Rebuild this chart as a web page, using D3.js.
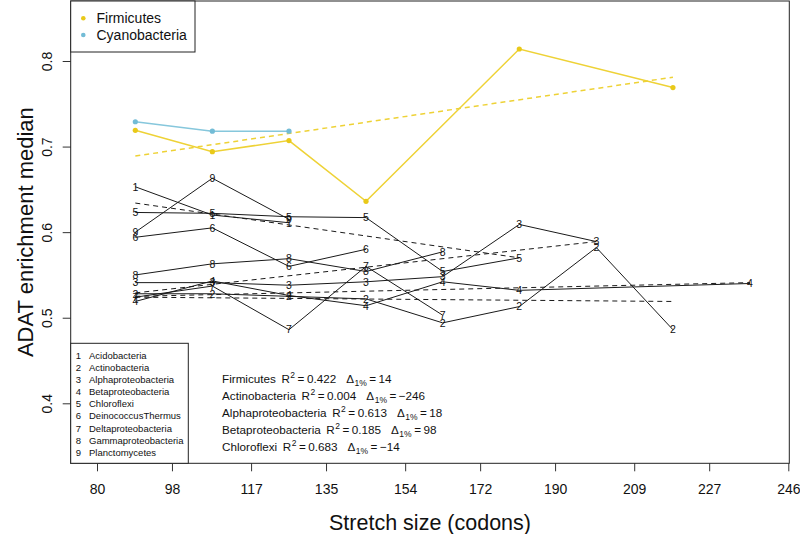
<!DOCTYPE html>
<html>
<head>
<meta charset="utf-8">
<script src="https://cdn.jsdelivr.net/npm/d3@7"></script>
<style>
  html, body { margin: 0; padding: 0; background: #fff; }
  svg { display: block; font-family: "Liberation Sans", Arial, sans-serif; }
</style>
</head>
<body>
<svg id="chart" width="800" height="534"></svg>
<script>
// ---------------- DATA ----------------
const stretchBins = [89.2, 107.7, 126.1, 144.6, 163.0, 181.4, 199.9, 218.3, 236.8];
const xTickLabels = [80, 98, 117, 135, 154, 172, 190, 209, 227, 246];
const yTickValues = [0.4, 0.5, 0.6, 0.7, 0.8];

const firmicutes    = [0.719, 0.694, 0.707, 0.636, null, 0.814, null, 0.769, null];
const cyanobacteria = [0.729, 0.718, 0.718, null, null, null, null, null, null];

const groupNames = ["Acidobacteria", "Actinobacteria", "Alphaproteobacteria", "Betaproteobacteria",
  "Chloroflexi", "DeinococcusThermus", "Deltaproteobacteria", "Gammaproteobacteria", "Planctomycetes"];
const acidobacteria       = [0.653, 0.620, 0.611, null, null, null, null, null, null];
const actinobacteria      = [0.528, 0.528, 0.525, 0.522, 0.494, 0.513, 0.582, 0.486, null];
const alphaproteobacteria = [0.541, 0.541, 0.538, 0.542, 0.548, 0.609, 0.589, null, null];
const betaproteobacteria  = [0.519, 0.543, 0.526, 0.514, 0.542, 0.532, null, null, 0.540];
const chloroflexi         = [0.623, 0.622, 0.618, 0.617, 0.554, 0.570, null, null, null];
const deinococcusThermus  = [0.594, 0.605, 0.560, 0.580, null, null, null, null, null];
const deltaproteobacteria = [0.524, 0.537, 0.486, 0.560, 0.503, null, null, null, null];
const gammaproteobacteria = [0.550, 0.563, 0.569, 0.554, 0.577, null, null, null, null];
const planctomycetes      = [0.600, 0.663, 0.615, null, null, null, null, null, null];
const groupValues = [acidobacteria, actinobacteria, alphaproteobacteria, betaproteobacteria,
  chloroflexi, deinococcusThermus, deltaproteobacteria, gammaproteobacteria, planctomycetes];

// regression (trend) lines: start/end stretch size and fitted value
const fitNames  = ["Firmicutes", "Actinobacteria", "Alphaproteobacteria", "Betaproteobacteria", "Chloroflexi"];
const fitR2     = ["0.422", "0.004", "0.613", "0.185", "0.683"];
const fitDelta  = ["14", "\u2212246", "18", "98", "\u221214"];
const fitX0     = [89.2, 89.2, 89.2, 89.2, 89.2];
const fitX1     = [218.3, 218.3, 199.9, 236.8, 181.4];
const fitY0     = [0.689, 0.524, 0.529, 0.525, 0.634];
const fitY1     = [0.781, 0.519, 0.589, 0.541, 0.570];

// ---------------- LAYOUT ----------------
const box = { left: 70.7, right: 789.3, top: 1, bottom: 463.3 };
const svg = d3.select("#chart");
const x = d3.scaleLinear().domain([80, 246]).range([97, 788.3]);
const y = d3.scaleLinear().domain([0.4, 0.8]).range([403.3, 61]);

const yellow = "#EED236", yellowPt = "#E9C919";
const blue = "#86C7DC", bluePt = "#73BCD6";
const ink = "#1a1a1a";

// ---------------- AXES ----------------
const xAxis = svg.append("g")
  .attr("transform", `translate(0,${box.bottom})`)
  .call(d3.axisBottom(x).tickValues(xTickLabels).tickFormat(d3.format("d")).tickSize(8).tickSizeOuter(0));
xAxis.select(".domain").remove();
xAxis.selectAll(".tick line").attr("stroke", "#333");
xAxis.selectAll("text").attr("y", 31).attr("dy", null)
  .attr("font-size", 14).attr("fill", "#111").attr("font-family", "Liberation Sans, Arial, sans-serif");

const yAxis = svg.append("g")
  .attr("transform", `translate(${box.left},0)`)
  .call(d3.axisLeft(y).tickValues(yTickValues).tickFormat(d3.format(".1f")).tickSize(8).tickSizeOuter(0));
yAxis.select(".domain").remove();
yAxis.selectAll(".tick line").attr("stroke", "#333");
yAxis.selectAll("text")
  .attr("x", 0).attr("y", -18.5).attr("dy", null)
  .attr("transform", "rotate(-90)")
  .attr("text-anchor", "middle")
  .attr("font-size", 14).attr("fill", "#111").attr("font-family", "Liberation Sans, Arial, sans-serif");

// plot box
svg.append("rect")
  .attr("x", box.left).attr("y", box.top)
  .attr("width", box.right - box.left).attr("height", box.bottom - box.top)
  .attr("fill", "none").attr("stroke", "#222").attr("stroke-width", 1);

// axis titles
svg.append("text")
  .attr("x", (box.left + box.right) / 2).attr("y", 529.5)
  .attr("text-anchor", "middle").attr("font-size", 21.5).attr("fill", "#111")
  .text("Stretch size (codons)");
svg.append("text")
  .attr("transform", `translate(33,${(box.top + box.bottom) / 2}) rotate(-90)`)
  .attr("text-anchor", "middle").attr("font-size", 22).attr("fill", "#111")
  .text("ADAT enrichment median");

// ---------------- MARKS ----------------
const toPts = vals => stretchBins.map((b, i) => [b, vals[i]]).filter(d => d[1] != null);
const line = d3.line().x(d => x(d[0])).y(d => y(d[1]));
const plot = svg.append("g");

// black group lines
groupValues.forEach((vals, gi) => {
  plot.append("path").datum(toPts(vals))
    .attr("d", line).attr("fill", "none").attr("stroke", ink).attr("stroke-width", 1);
});

// black regression lines
for (let i = 1; i < fitNames.length; i++) {
  plot.append("path").datum([[fitX0[i], fitY0[i]], [fitX1[i], fitY1[i]]])
    .attr("d", line).attr("fill", "none").attr("stroke", ink)
    .attr("stroke-width", 1).attr("stroke-dasharray", "5,4");
}

// group number labels
groupValues.forEach((vals, gi) => {
  plot.selectAll(null).data(toPts(vals)).enter().append("text")
    .attr("x", d => x(d[0])).attr("y", d => y(d[1])).attr("dy", "0.36em")
    .attr("text-anchor", "middle").attr("font-size", 10.5).attr("fill", "#111")
    .text(gi + 1);
});

// Firmicutes regression (yellow dashed)
plot.append("path").datum([[fitX0[0], fitY0[0]], [fitX1[0], fitY1[0]]])
  .attr("d", line).attr("fill", "none").attr("stroke", yellow)
  .attr("stroke-width", 1.5).attr("stroke-dasharray", "5,4");

// Firmicutes & Cyanobacteria lines and points
[[firmicutes, yellow, yellowPt], [cyanobacteria, blue, bluePt]].forEach(([vals, c, cp]) => {
  plot.append("path").datum(toPts(vals))
    .attr("d", line).attr("fill", "none").attr("stroke", c).attr("stroke-width", 1.5);
  plot.selectAll(null).data(toPts(vals)).enter().append("circle")
    .attr("cx", d => x(d[0])).attr("cy", d => y(d[1])).attr("r", 2.6).attr("fill", cp);
});

// ---------------- LEGENDS ----------------
// top legend
svg.append("rect").attr("x", box.left).attr("y", box.top)
  .attr("width", 195 - box.left).attr("height", 52 - box.top)
  .attr("fill", "#fff").attr("stroke", "#222").attr("stroke-width", 1);
[["Firmicutes", yellowPt, 18.3], ["Cyanobacteria", bluePt, 35]].forEach(([t, c, yy]) => {
  svg.append("circle").attr("cx", 83.3).attr("cy", yy).attr("r", 2.3).attr("fill", c);
  svg.append("text").attr("x", 96.5).attr("y", yy).attr("dy", "0.36em")
    .attr("font-size", 14).attr("fill", "#111").text(t);
});

// group legend
svg.append("rect").attr("x", box.left).attr("y", 343.3)
  .attr("width", 188.3 - box.left).attr("height", box.bottom - 343.3)
  .attr("fill", "#fff").attr("stroke", "#222").attr("stroke-width", 1);
groupNames.forEach((n, i) => {
  const yy = 355.6 + i * 12.08;
  svg.append("text").attr("x", 78.3).attr("y", yy).attr("dy", "0.36em")
    .attr("text-anchor", "middle").attr("font-size", 9.5).attr("fill", "#111").text(i + 1);
  svg.append("text").attr("x", 89).attr("y", yy).attr("dy", "0.36em")
    .attr("font-size", 9.5).attr("fill", "#111").text(n);
});

// regression statistics
fitNames.forEach((n, i) => {
  const t = svg.append("text").attr("x", 222).attr("y", 383.3 + i * 16.9)
    .attr("font-size", 11.7).attr("fill", "#111");
  t.append("tspan").text(n);
  t.append("tspan").attr("dx", 5.5).text("R");
  t.append("tspan").attr("dy", -5).attr("dx", 0.5).attr("font-size", 8.5).text("2");
  t.append("tspan").attr("dy", 5).attr("dx", 2.5).text("=");
  t.append("tspan").attr("dx", 2.5).text(fitR2[i]);
  t.append("tspan").attr("dx", 10).text("\u0394");
  t.append("tspan").attr("dy", 3).attr("dx", 0.5).attr("font-size", 8.5).text("1%");
  t.append("tspan").attr("dy", -3).attr("dx", 2.5).text("=");
  t.append("tspan").attr("dx", 2.5).text(fitDelta[i]);
});
</script>
</body>
</html>
